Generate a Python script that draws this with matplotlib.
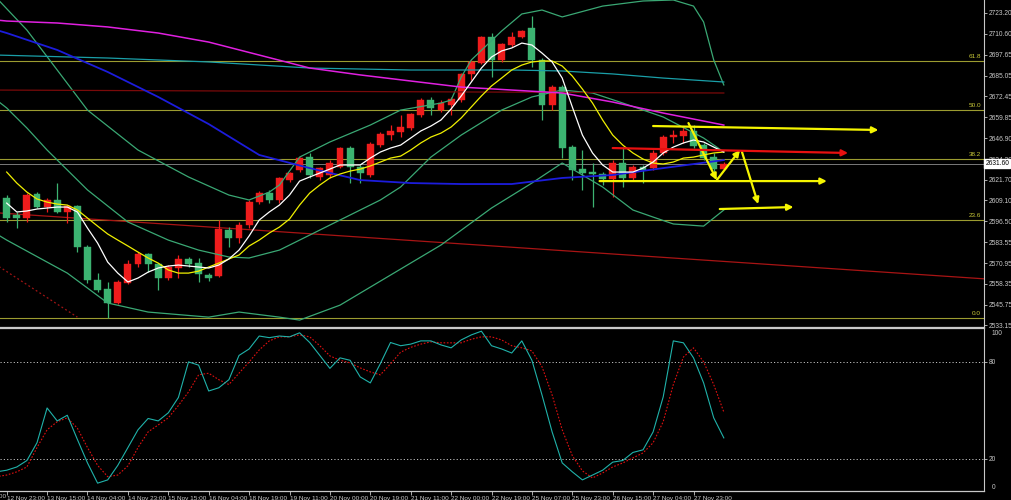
import matplotlib
matplotlib.use("Agg")
import matplotlib.pyplot as plt
import matplotlib.transforms as mtransforms

plt.rcParams['font.family'] = ['Liberation Sans', 'DejaVu Sans']

# ---------------- data ----------------
opens = [2610.6, 2600.2, 2598.4, 2613.0, 2605.1, 2609.4, 2602.1, 2605.7, 2580.8, 2560.7,
         2555.2, 2546.7, 2558.8, 2570.4, 2576.5, 2570.4, 2561.9, 2568.0, 2573.5, 2571.0,
         2563.7, 2563.1, 2591.1, 2586.2, 2594.1, 2608.1, 2613.6, 2609.4, 2621.5, 2627.6,
         2635.5, 2623.4, 2624.6, 2629.5, 2641.0, 2629.5, 2624.6, 2642.8, 2648.9, 2650.8,
         2653.2, 2661.1, 2670.2, 2664.1, 2667.2, 2670.2, 2686.1, 2692.8, 2708.6, 2694.6,
         2703.7, 2708.6, 2714.1, 2694.6, 2667.2, 2678.1, 2641.6, 2628.2, 2626.4, 2625.2,
         2622.1, 2631.9, 2622.8, 2629.5, 2628.8, 2638.0, 2647.7, 2648.3, 2651.4, 2642.8,
         2635.5, 2628.2]
highs = [2612.4, 2602.1, 2613.6, 2614.2, 2610.6, 2619.7, 2606.3, 2606.3, 2582.0, 2564.9,
         2559.5, 2560.7, 2572.8, 2577.7, 2577.1, 2571.0, 2569.8, 2575.9, 2574.7, 2574.1,
         2564.9, 2597.2, 2592.9, 2596.0, 2609.4, 2614.8, 2615.5, 2623.4, 2626.4, 2635.5,
         2638.0, 2629.5, 2633.7, 2641.6, 2642.2, 2630.7, 2644.7, 2650.8, 2655.0, 2661.1,
         2662.3, 2671.5, 2672.1, 2670.2, 2672.1, 2686.7, 2694.6, 2709.2, 2711.0, 2704.9,
         2711.6, 2712.8, 2721.4, 2695.8, 2679.4, 2679.4, 2642.8, 2639.8, 2631.9, 2626.4,
         2633.7, 2641.6, 2630.7, 2630.7, 2639.8, 2648.9, 2652.0, 2653.8, 2655.0, 2644.1,
         2638.0, 2632.5]
lows = [2596.0, 2592.3, 2596.0, 2604.5, 2602.1, 2601.5, 2595.4, 2577.7, 2558.8, 2553.4,
        2537.6, 2546.1, 2558.2, 2568.6, 2565.5, 2554.6, 2560.7, 2561.9, 2568.6, 2559.5,
        2560.1, 2562.5, 2580.8, 2583.2, 2592.3, 2606.9, 2607.5, 2607.5, 2620.3, 2626.4,
        2622.8, 2621.5, 2622.8, 2628.8, 2619.7, 2619.7, 2623.4, 2641.6, 2645.9, 2647.7,
        2652.0, 2659.9, 2661.1, 2662.9, 2661.1, 2669.0, 2682.4, 2692.1, 2684.2, 2693.4,
        2702.5, 2708.0, 2690.3, 2658.1, 2664.1, 2634.9, 2621.5, 2615.5, 2605.1, 2618.5,
        2611.2, 2617.3, 2621.5, 2619.7, 2627.6, 2636.8, 2644.1, 2644.1, 2641.0, 2633.7,
        2626.4, 2627.6]
closes = [2598.4, 2598.4, 2612.4, 2605.1, 2609.4, 2602.1, 2605.7, 2580.8, 2560.7, 2554.6,
          2546.7, 2559.5, 2570.4, 2576.5, 2570.4, 2561.9, 2568.6, 2573.5, 2570.4, 2564.3,
          2561.9, 2591.7, 2586.2, 2594.1, 2608.1, 2613.6, 2609.4, 2622.8, 2625.8, 2634.9,
          2624.6, 2628.8, 2631.9, 2641.0, 2629.5, 2625.8, 2643.4, 2649.5, 2651.4, 2653.8,
          2661.7, 2670.2, 2665.4, 2668.4, 2670.8, 2686.1, 2693.4, 2708.6, 2694.6, 2704.3,
          2708.6, 2712.2, 2694.6, 2667.2, 2678.1, 2641.0, 2627.6, 2625.8, 2625.2, 2622.1,
          2631.9, 2622.8, 2629.5, 2627.6, 2638.0, 2647.7, 2648.9, 2651.4, 2642.2, 2634.9,
          2628.2, 2631.6]

fast_ma = [2607.5, 2602.1, 2602.7, 2603.9, 2604.5, 2605.1, 2605.1, 2602.1, 2592.3, 2583.2,
           2571.6, 2564.9, 2559.5, 2561.9, 2565.5, 2568.0, 2569.2, 2569.8, 2569.2, 2568.6,
           2568.0, 2569.8, 2573.5, 2578.9, 2587.5, 2597.2, 2602.1, 2606.3, 2612.4, 2620.9,
           2623.4, 2625.8, 2628.2, 2630.7, 2630.7, 2630.7, 2634.9, 2638.6, 2641.0, 2642.8,
           2647.1, 2651.4, 2654.4, 2658.1, 2664.8, 2672.7, 2681.2, 2689.7, 2696.4, 2700.1,
           2701.9, 2704.9, 2703.7, 2698.8, 2693.4, 2683.6, 2666.0, 2648.9, 2638.0, 2630.7,
           2626.4, 2626.4, 2626.4, 2628.8, 2632.5, 2638.0, 2641.6, 2644.1, 2645.9, 2644.7,
           2641.6, 2638.6]
slow_ma = [2626.4, 2619.7, 2614.2, 2610.0, 2608.1, 2606.9, 2606.3, 2603.3, 2598.4, 2593.5,
           2588.7, 2585.0, 2581.4, 2577.7, 2574.1, 2571.0, 2566.8, 2564.9, 2564.9, 2566.1,
           2568.6, 2571.0, 2573.5, 2575.9, 2581.4, 2585.0, 2589.3, 2592.9, 2597.8, 2606.3,
           2613.6, 2618.5, 2622.8, 2625.2, 2627.0, 2628.2, 2630.1, 2632.5, 2634.9, 2636.1,
           2639.8, 2644.1, 2647.7, 2650.1, 2653.8, 2659.3, 2666.0, 2672.7, 2678.8, 2683.6,
           2688.5, 2691.5, 2693.4, 2694.0, 2694.0, 2690.9, 2684.8, 2676.9, 2668.4, 2658.1,
           2648.9, 2642.8, 2638.0, 2634.3, 2631.9, 2631.3, 2632.5, 2634.9, 2635.5, 2636.8,
           2638.0, 2638.6]

blue_idx = [-1, 0, 5, 10, 15, 20, 25, 30, 35, 40, 45, 50, 55, 60, 65, 71]
blue_val = [2712.8, 2711.0, 2700.7, 2687.3, 2672.1, 2655.6, 2636.8, 2628.8, 2621.5, 2619.7,
            2619.1, 2619.1, 2622.8, 2624.6, 2628.8, 2633.7]
magenta_idx = [-1, 0, 5, 10, 15, 20, 25, 30, 35, 40, 45, 50, 55, 60, 65, 71]
magenta_val = [2718.9, 2718.3, 2717.1, 2714.7, 2711.0, 2705.5, 2697.6, 2689.7, 2685.5, 2681.8,
               2678.1, 2676.3, 2674.5, 2669.0, 2662.3, 2655.0]
teal_idx = [-1, 10, 20, 30, 40, 50, 55, 60, 65, 71]
teal_val = [2697.6, 2695.8, 2693.4, 2689.7, 2688.5, 2688.5, 2687.9, 2686.1, 2683.6, 2681.2]
darkred_idx = [-1, 71]
darkred_val = [2676.3, 2674.5]

upper_idx = [-1, 2, 5, 8, 13, 18, 22, 24, 26, 27, 29, 32, 36, 39, 43, 44, 45, 46, 49, 51,
             53, 55, 59, 63, 66, 68, 69, 70, 71]
upper_val = [2732.3, 2712.8, 2688.5, 2664.1, 2639.8, 2623.4, 2612.4, 2609.4, 2614.2, 2618.5,
             2635.5, 2644.7, 2655.0, 2664.1, 2668.4, 2670.2, 2684.2, 2694.6, 2712.2, 2722.6,
             2725.0, 2720.8, 2727.4, 2730.5, 2731.1, 2727.4, 2717.7, 2694.6, 2679.4]
mid_idx = [-1, 0, 2, 4, 8, 12, 16, 19, 22, 24, 27, 29, 33, 37, 39, 42, 45, 49, 52, 55, 58,
           61, 65, 69, 71]
mid_val = [2670.2, 2665.4, 2653.2, 2639.8, 2615.5, 2596.0, 2585.0, 2578.9, 2574.7, 2574.1,
           2578.9, 2585.0, 2597.2, 2609.4, 2617.3, 2635.5, 2648.9, 2664.1, 2672.1, 2676.3,
           2674.5, 2668.4, 2659.9, 2647.1, 2638.6]
lower_idx = [-1, 0, 6, 10, 14, 20, 23, 27, 29, 33, 38, 43, 48, 52, 55, 59, 62, 64, 66, 69, 71]
lower_val = [2588.7, 2585.0, 2564.9, 2546.7, 2541.2, 2538.1, 2541.2, 2538.1, 2536.3, 2545.4,
             2563.7, 2582.0, 2604.5, 2619.7, 2631.9, 2617.3, 2603.3, 2599.0, 2594.8, 2593.5,
             2603.3]

trend_idx = [0, 90]
trend_val = [2601.2, 2564.2]
dotted_trend_idx = [-1, 7]
dotted_trend_val = [2569.8, 2538.1]

fib_levels = [2694.1, 2664.2, 2634.4, 2597.2, 2537.6]
fib_labels = ["61.8", "50.0", "38.2", "23.6", "0.0"]
bid_price = 2631.60

price_ticks = [2723.20, 2710.60, 2697.65, 2685.05, 2672.45, 2659.85, 2646.90, 2634.30,
               2621.70, 2609.10, 2596.50, 2583.55, 2570.95, 2558.35, 2545.75, 2533.15]

time_tick_idx = list(range(0, 69, 4))
time_labels = ["12 Nov 23:00", "13 Nov 15:00", "14 Nov 04:00", "14 Nov 23:00", "15 Nov 15:00",
               "16 Nov 04:00", "18 Nov 19:00", "19 Nov 11:00", "20 Nov 00:00", "20 Nov 19:00",
               "21 Nov 11:00", "22 Nov 00:00", "22 Nov 19:00", "25 Nov 07:00", "25 Nov 23:00",
               "26 Nov 15:00", "27 Nov 04:00", "27 Nov 23:00"]
prev_label = "12 Nov 07:00"

stoch_k = [12, 13, 15, 19, 30, 51.5, 43.5, 47, 32, 17.5, 5, 7, 16, 27, 38, 45, 43.5, 48.5, 58,
           80, 78, 62, 64, 69, 84, 88, 96, 95, 96, 95.5, 98, 92, 84, 76, 82.5, 81, 70.7, 67, 79,
           92, 90, 91, 93, 93, 90.5, 88.7, 93.6, 96.7, 99, 90, 88, 85.5, 93, 81, 59.5, 36.7,
           17.5, 12, 7, 10, 13, 18, 19, 24, 25.6, 36.7, 58.4, 93, 91.8, 82.5, 67, 45.4, 33]
stoch_d = [9, 10, 12, 15, 27, 38, 43, 45.4, 39, 27, 16, 9, 10, 15.7, 27, 36.7, 41, 45.4, 53,
           61.4, 72, 73, 69, 66, 73, 80, 87.4, 93, 95.5, 95.5, 96.7, 95.5, 90, 83.7, 81, 79.4,
           76.3, 73.8, 72, 78.8, 86, 89, 91, 92.4, 91.8, 91.8, 91.8, 94, 95.5, 95.5, 93.6, 90,
           88.7, 86.8, 77, 59.6, 38, 22, 12.6, 8.2, 11.3, 15, 17.5, 20.6, 23.7, 30, 43, 66, 83,
           88.7, 80, 66, 49]
stoch_levels = [80, 20]

# drawn objects (candle index, price)
arrows_yellow = [((64.0, 2654.4), (86.3, 2652.0)),
                 ((58.7, 2620.9), (81.2, 2620.9)),
                 ((70.6, 2603.9), (77.9, 2605.1)),
                 ((67.5, 2656.2), (70.3, 2621.5)),
                 ((70.3, 2621.5), (72.6, 2639.8)),
                 ((72.8, 2638.6), (74.4, 2606.9))]
arrows_red = [((60.0, 2641.0), (83.3, 2638.0))]

# ---------------- figure ----------------
W, H = 1011, 500
fig = plt.figure(figsize=(W / 100, H / 100), dpi=100, facecolor='black')
axw = 984 / W
ax = fig.add_axes([0, (H - 327) / H, axw, 327 / H], facecolor='black')
axs = fig.add_axes([0, (H - 491) / H, axw, (491 - 328) / H], facecolor='black')

xlo, xhi = -0.663, 96.76
for a in (ax, axs):
    a.set_xlim(xlo, xhi)
    for s in ('left', 'top'):
        a.spines[s].set_visible(False)
    a.spines['right'].set_color('#c8c8c8')
    a.spines['bottom'].set_color('#c8c8c8')
    a.spines['right'].set_linewidth(0.8)
    a.spines['bottom'].set_linewidth(0.9)
axs.spines['top'].set_visible(True)
axs.spines['top'].set_color('#c8c8c8')
axs.spines['top'].set_linewidth(0.9)

ax.set_ylim(2532.1, 2731.1)
axs.set_ylim(0.14, 100.97)

# fib levels
trans_ax = mtransforms.blended_transform_factory(ax.transAxes, ax.transData)
for lv, lb in zip(fib_levels, fib_labels):
    ax.axhline(lv, color='#9c9c30', lw=0.8, zorder=1)
    ax.text(0.997, lv + 1.0, lb, transform=trans_ax, ha='right', va='bottom',
            fontsize=4.6, color='#c8c838', zorder=6)
ax.axhline(bid_price, color='#7a7a7a', lw=0.7, zorder=1)

# trend lines
ax.axline((trend_idx[0], trend_val[0]), (trend_idx[1], trend_val[1]), color='#a81414', lw=0.9, zorder=1)
ax.plot(dotted_trend_idx, dotted_trend_val, color='#a01414', lw=0.9, ls=(0, (1.5, 2)), zorder=1)

# candles
n = len(opens)
xs = list(range(n))
for i in xs:
    up = closes[i] >= opens[i]
    col = '#ee1c1c' if up else '#3cb371'
    ax.vlines(i, lows[i], highs[i], color=col, lw=0.9, zorder=2)
    lo, hi = min(opens[i], closes[i]), max(opens[i], closes[i])
    ax.bar(i, max(hi - lo, 0.5), bottom=lo, width=0.68, color=col, edgecolor=col, lw=0.3, zorder=3)

# moving averages & bands
band_col = '#3aa874'
ax.plot(upper_idx, upper_val, color=band_col, lw=0.9, zorder=4)
ax.plot(mid_idx, mid_val, color=band_col, lw=0.9, zorder=4)
ax.plot(lower_idx, lower_val, color=band_col, lw=0.9, zorder=4)
ax.plot(teal_idx, teal_val, color='#1a9fa8', lw=0.9, zorder=4)
ax.plot(darkred_idx, darkred_val, color='#7a0a0a', lw=0.9, zorder=4)
ax.plot(magenta_idx, magenta_val, color='#e020e0', lw=1.1, zorder=4)
ax.plot(blue_idx, blue_val, color='#1c1cdc', lw=1.3, zorder=4)
ax.plot(xs, slow_ma, color='#f0f000', lw=0.9, zorder=5)
ax.plot(xs, fast_ma, color='#ffffff', lw=0.9, zorder=5)

# drawn arrows
for (p0, p1) in arrows_yellow:
    ax.annotate('', xy=p1, xytext=p0,
                arrowprops=dict(arrowstyle='-|>', color='#f5f500', lw=1.6, mutation_scale=9,
                                shrinkA=0, shrinkB=0), zorder=7)
for (p0, p1) in arrows_red:
    ax.annotate('', xy=p1, xytext=p0,
                arrowprops=dict(arrowstyle='-|>', color='#e81010', lw=1.6, mutation_scale=9,
                                shrinkA=0, shrinkB=0), zorder=7)

# price axis
ax.yaxis.tick_right()
ax.set_yticks(price_ticks)
ax.set_yticklabels(['%.2f' % v for v in price_ticks])
ax.tick_params(axis='y', colors='#c8c8c8', labelsize=4.8, length=2, width=0.6, pad=1.5)
ax.set_xticks([])
trans_bid = mtransforms.blended_transform_factory(ax.transAxes, ax.transData)
ax.text(1.0015, bid_price, '%.2f' % bid_price, transform=trans_bid, ha='left', va='center',
        fontsize=4.8, color='black', zorder=10, clip_on=False,
        bbox=dict(boxstyle='square,pad=0.15', facecolor='white', edgecolor='white'))

# stochastic
sx = list(range(-1, n))
axs.plot(sx, stoch_k, color='#20b2aa', lw=0.8, zorder=3)
axs.plot(sx, stoch_d, color='#e01010', lw=0.8, ls=(0, (1.5, 1.5)), zorder=2)
for lv in stoch_levels:
    axs.axhline(lv, color='#c0c0c0', lw=0.7, ls=(0, (1.2, 2.2)), zorder=1)
axs.yaxis.tick_right()
axs.set_yticks(stoch_levels)
axs.set_yticklabels([str(v) for v in stoch_levels])
axs.tick_params(axis='y', colors='#c8c8c8', labelsize=4.8, length=2, width=0.6, pad=1.5)
trans_s = mtransforms.blended_transform_factory(axs.transAxes, axs.transData)
axs.text(1.008, 97.5, '100', transform=trans_s, ha='left', va='center', fontsize=4.8, color='#c8c8c8')
axs.text(1.008, 2.5, '0', transform=trans_s, ha='left', va='center', fontsize=4.8, color='#c8c8c8')

axs.set_xticks(time_tick_idx)
axs.set_xticklabels(time_labels)
for t in axs.get_xticklabels():
    t.set_horizontalalignment('left')
axs.tick_params(axis='x', colors='#c8c8c8', labelsize=4.6, length=3, width=0.6, pad=0.8)
x_prev = 6.7 + 10.1 * (-4)
fig.text((x_prev + 1.5) / W, (H - 496) / H, prev_label, ha='left', va='center', fontsize=4.6,
         color='#c8c8c8')

fig.savefig('out.png', dpi=100, facecolor='black')
